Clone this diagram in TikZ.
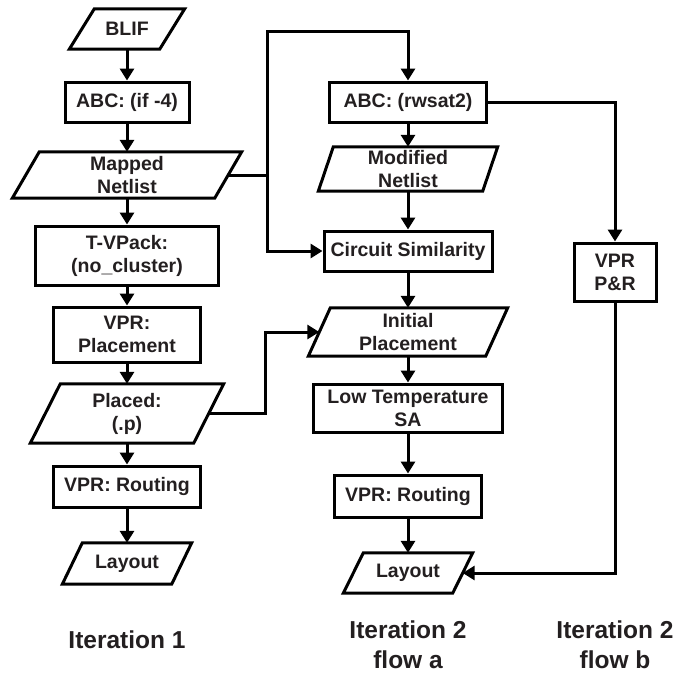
\documentclass[tikz,border=0pt]{standalone}
\usepackage{fontspec}
\setmainfont{Liberation Sans}
\usetikzlibrary{arrows.meta}
\definecolor{txt}{HTML}{231F20}
\newcommand\pgm[2]{\draw[lw, line join=miter] ([xshift=#2pt]#1.north west) -- ([xshift=#2pt]#1.north east) -- ([xshift=-#2pt]#1.south east) -- ([xshift=-#2pt]#1.south west) -- cycle;}
\begin{document}
\begin{tikzpicture}[x=1pt,y=-1pt,
  lw/.style={line width=3pt},
  lbl/.style={inner sep=0pt, align=center, text=txt, font=\bfseries\fontsize{19.5}{23}\selectfont},
  box/.style={lbl, draw, lw},
  pnode/.style={lbl},
  conn/.style={line width=3pt},
  arr/.style={conn, -{Triangle[width=14pt,length=12pt]}},
  title/.style={align=center, text=txt, font=\bfseries\fontsize{24.5}{30}\selectfont}]
\useasboundingbox (0,0) rectangle (692,673);
\fill[white] (0,0) rectangle (692,673);

% left column
\node[pnode, minimum width=90pt, minimum height=40pt] (blif) at (127,29) {BLIF};
\node[box, minimum width=124pt, minimum height=40pt] (abc1) at (127,102) {ABC: (if -4)};
\node[pnode, minimum width=202pt, minimum height=46pt] (mapped) at (127,175) {Mapped\\Netlist};
\node[box, minimum width=183pt, minimum height=59pt] (tvpack) at (127,255.5) {T-VPack:\\(no\_cluster)};
\node[box, minimum width=147pt, minimum height=55pt] (vprp) at (127,334.5) {VPR:\\Placement};
\node[pnode, minimum width=163pt, minimum height=59pt] (placed) at (127,413.5) {Placed:\\(.p)};
\node[box, minimum width=147pt, minimum height=41pt] (route1) at (127,486.5) {VPR: Routing};
\node[pnode, minimum width=109pt, minimum height=41pt] (layout1) at (127,563.5) {Layout};

% middle column
\node[box, minimum width=157pt, minimum height=40pt] (abc2) at (408,102) {ABC: (rwsat2)};
\node[pnode, minimum width=164pt, minimum height=44pt] (modnet) at (408,169) {Modified\\Netlist};
\node[box, minimum width=168pt, minimum height=40pt] (sim) at (408,251) {Circuit Similarity};
\node[pnode, minimum width=177pt, minimum height=48pt] (init) at (408,332) {Initial\\Placement};
\node[box, minimum width=189pt, minimum height=48pt] (lowt) at (408,408) {Low Temperature\\SA};
\node[box, minimum width=147pt, minimum height=42pt] (route2) at (408,496) {VPR: Routing};
\node[pnode, minimum width=109pt, minimum height=40pt] (layout2) at (408,573) {Layout};

% right column
\node[box, minimum width=82pt, minimum height=58pt] (vprpr) at (615,272) {VPR\\P\&R};

% parallelogram outlines
\pgm{blif}{12.5}
\pgm{mapped}{13.5}
\pgm{placed}{15}
\pgm{layout1}{10}
\pgm{modnet}{7.5}
\pgm{init}{11}
\pgm{layout2}{10}

% titles
\node[title] (t1) at (127,640) {Iteration 1};
\node[title] (t2) at (408,645) {Iteration 2\\flow a};
\node[title] (t3) at (615,645) {Iteration 2\\flow b};

% left chain
\draw[arr] (blif) -- (abc1);
\draw[arr] (abc1) -- (mapped);
\draw[arr] (mapped) -- (tvpack);
\draw[arr] (tvpack) -- (vprp);
\draw[arr] (vprp) -- (placed);
\draw[arr] (placed) -- (route1);
\draw[arr] (route1) -- (layout1);

% middle chain
\draw[arr] (abc2) -- (modnet);
\draw[arr] (modnet) -- (sim);
\draw[arr] (sim) -- (init);
\draw[arr] (init) -- (lowt);
\draw[arr] (lowt) -- (route2);
\draw[arr] (route2) -- (layout2);

% cross connections
\coordinate (j1) at (267,175);
\coordinate (j2) at (267,31);
\draw[conn] (mapped.east) -- (j1);
\draw[arr] (j1) -- (j2) -| (abc2.north);
\draw[arr] (j1) |- (sim.west);
\coordinate (k1) at (265,413.5);
\draw[arr] (placed.east) -- (k1) |- (init.west);
\draw[arr] (abc2.east) -| (vprpr.north);
\draw[arr] (vprpr.south) |- (layout2.east);
\end{tikzpicture}
\end{document}
